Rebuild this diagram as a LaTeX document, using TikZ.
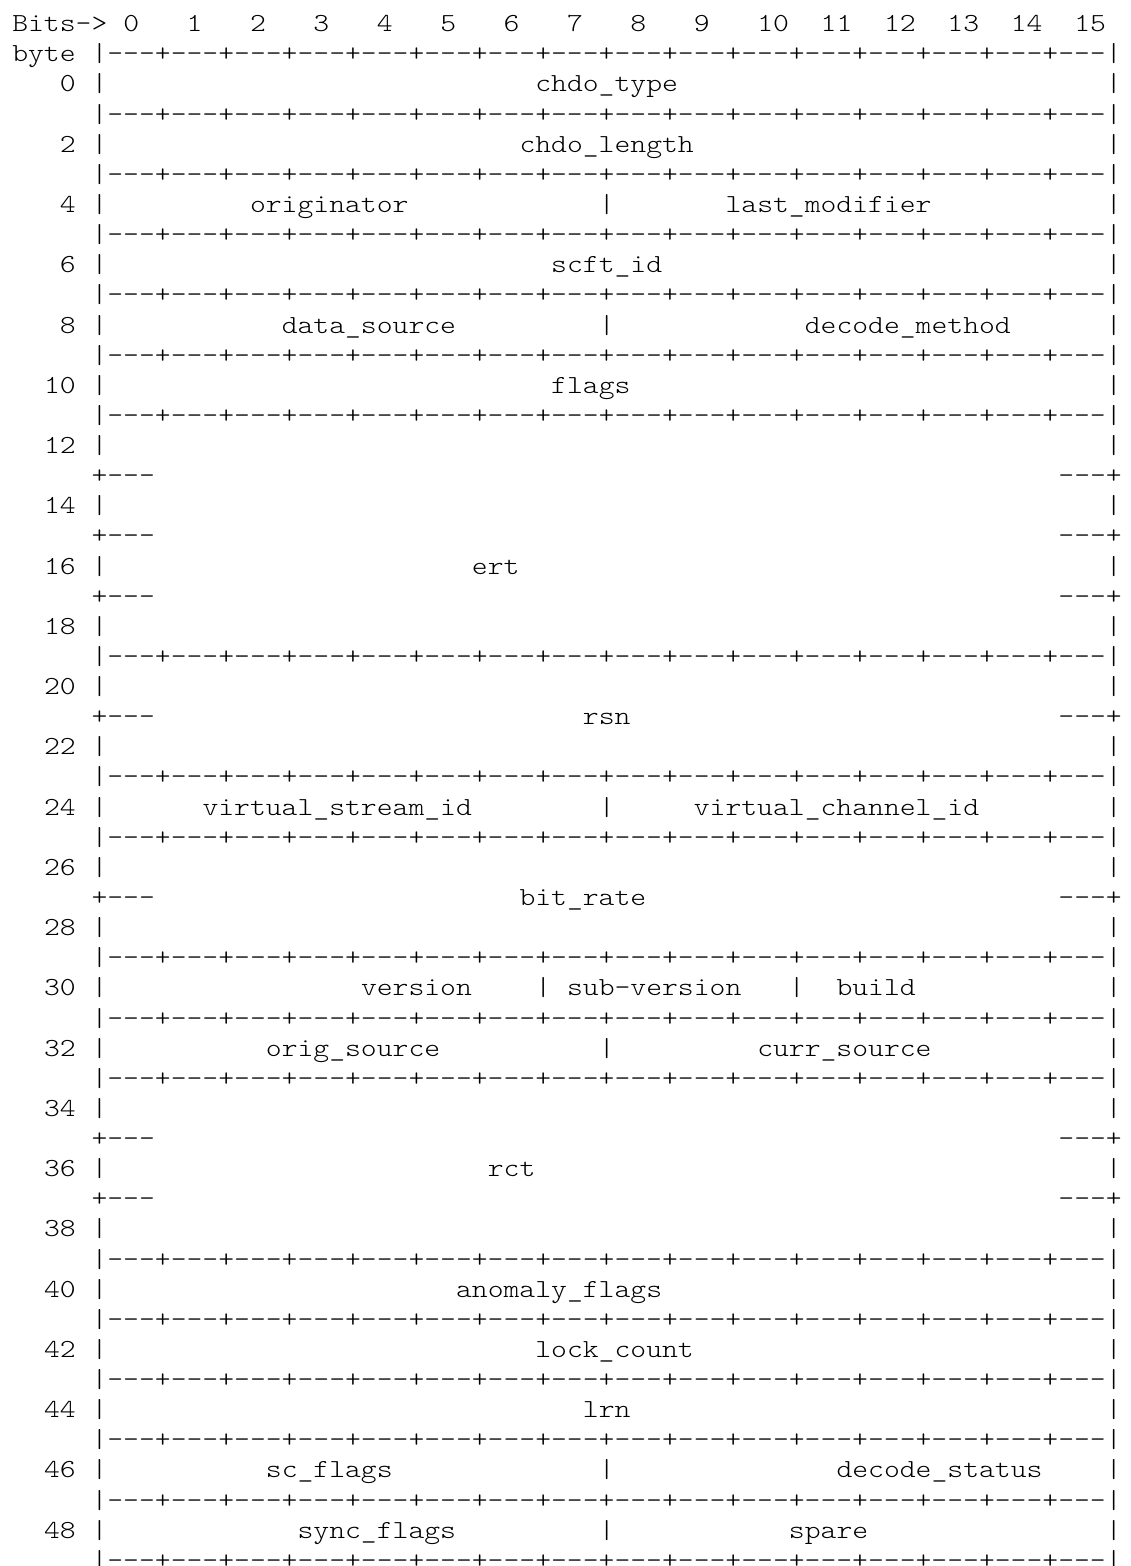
\documentclass[tikz,border=0pt]{standalone}
\usepackage{fontspec}
\setmonofont{lmmonolt10-regular.otf}[FakeStretch=1.161]
\newcommand\rulestr{|---+---+---+---+---+---+---+---+---+---+---+---+---+---+---+---|}
\def\X{12.3}\def\W{15.85}\def\Y{31.7}\def\H{30.13}
\newcommand\fseg[4]{\node[t] (#1) at ({\X+#3*\W},{-\Y-#2*\H}) {#4};}
\begin{document}
\begin{tikzpicture}[x=1pt,y=1pt,
  t/.style={anchor=base west,inner sep=0pt,outer sep=0pt,
    font=\ttfamily\fontsize{26}{30}\selectfont,text=black}]
\fill[white] (0,0) rectangle (1130,-1566);
\useasboundingbox (0,0) rectangle (1130,-1566);
% header
\fseg{bits}{0}{0}{Bits->}
\foreach \k in {0,...,15}{\pgfmathtruncatemacro\c{7+4*\k}\fseg{bit\k}{0}{\c}{\k}}
\fseg{byte}{1}{0}{byte}
\fseg{rule1}{1}{5}{\rulestr}
% byte rows
\foreach \n in {0,2,...,48}{%
  \pgfmathtruncatemacro\r{\n+2}%
  \node[t,anchor=base east] (num\n) at ({\X+4*\W},{-\Y-\r*\H}) {\n};
  \fseg{lb\n}{\r}{5}{|}
  \fseg{rb\n}{\r}{69}{|}
}
% separators
\foreach \r in {3,5,7,9,11,13,21,25,27,31,33,35,41,43,45,47,49,51}{\fseg{rule\r}{\r}{5}{\rulestr}}
\foreach \r in {15,17,19,23,29,37,39}{\fseg{pl\r}{\r}{5}{+---}\fseg{pr\r}{\r}{66}{---+}}
% fields
\fseg{f1}{2}{33}{chdo\_type}
\fseg{f2}{4}{32}{chdo\_length}
\fseg{f3}{6}{15}{originator}
\fseg{d3}{6}{37}{|}
\fseg{f4}{6}{45}{last\_modifier}
\fseg{f5}{8}{34}{scft\_id}
\fseg{f6}{10}{17}{data\_source}
\fseg{d6}{10}{37}{|}
\fseg{f7}{10}{50}{decode\_method}
\fseg{f8}{12}{34}{flags}
\fseg{f9}{18}{29}{ert}
\fseg{f10}{23}{36}{rsn}
\fseg{f11}{26}{12}{virtual\_stream\_id}
\fseg{d11}{26}{37}{|}
\fseg{f12}{26}{43}{virtual\_channel\_id}
\fseg{f13}{29}{32}{bit\_rate}
\fseg{f14}{32}{22}{version}
\fseg{d14}{32}{33}{|}
\fseg{f15}{32}{35}{sub-version}
\fseg{d15}{32}{49}{|}
\fseg{f16}{32}{52}{build}
\fseg{f17}{34}{16}{orig\_source}
\fseg{d17}{34}{37}{|}
\fseg{f18}{34}{47}{curr\_source}
\fseg{f19}{38}{30}{rct}
\fseg{f20}{42}{28}{anomaly\_flags}
\fseg{f21}{44}{33}{lock\_count}
\fseg{f22}{46}{36}{lrn}
\fseg{f23}{48}{16}{sc\_flags}
\fseg{d23}{48}{37}{|}
\fseg{f24}{48}{52}{decode\_status}
\fseg{f25}{50}{18}{sync\_flags}
\fseg{d25}{50}{37}{|}
\fseg{f26}{50}{49}{spare}
\end{tikzpicture}
\end{document}
